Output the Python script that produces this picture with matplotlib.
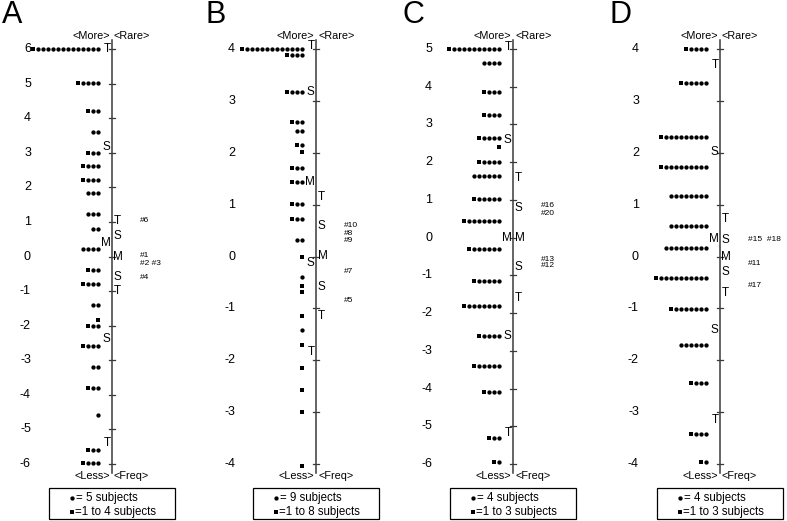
import matplotlib.pyplot as plt
from matplotlib.patches import Rectangle

plt.rcParams['font.family'] = ['Liberation Sans', 'DejaVu Sans']

# ---- panel A ----
a_ticks = list(range(-6, 7))
a_rows = [6.0, 5.03, 4.22, 3.61, 3.0, 2.62, 2.2, 1.85, 1.23, 0.79, 0.22, -0.39, -0.8,
          -1.4, -1.84, -2.0, -2.59, -3.2, -3.79, -4.58, -5.59, -5.98]
a_circles = [13, 4, 2, 2, 2, 3, 3, 3, 3, 2, 4, 2, 3, 2, 0, 2, 3, 2, 2, 1, 2, 3]
a_squares = [1, 1, 1, 0, 1, 1, 1, 0, 0, 0, 0, 1, 1, 0, 1, 1, 1, 0, 1, 0, 1, 1]
a_left_y = [6.0, 3.18, 0.4, -2.4, -5.38]
a_right_y = [1.04, 0.58, 0.0, -0.6, -1.01]
a_item_y = [1.04, 0.04, -0.19, -0.6]
a_item_txt = ['#6', '#1', '#2 #3', '#4']
a_legend = ['= 5 subjects', '=1 to 4 subjects']

# ---- panel B ----
b_ticks = list(range(-4, 5))
b_rows = [4.0, 3.88, 3.17, 2.59, 2.41, 2.15, 2.01, 1.71, 1.44, 1.01, 0.72, 0.31, 0.0,
          -0.4, -0.56, -0.69, -1.14, -1.41, -1.7, -2.14, -2.57, -3.0, -4.03]
b_circles = [12, 3, 3, 2, 2, 1, 0, 2, 2, 2, 2, 2, 0, 1, 0, 0, 0, 1, 0, 0, 0, 0, 0]
b_squares = [1, 1, 1, 1, 0, 1, 1, 1, 1, 1, 1, 0, 1, 0, 1, 1, 1, 0, 1, 1, 1, 1, 1]
b_left_y = [4.05, 3.17, 1.44, -0.13, -1.85]
b_right_y = [1.15, 0.59, 0.01, -0.58, -1.14]
b_item_y = [0.6, 0.45, 0.3, -0.28, -0.85]
b_item_txt = ['#10', '#8', '#9', '#7', '#5']
b_legend = ['= 9 subjects', '=1 to 8 subjects']

# ---- panel C ----
c_ticks = list(range(-6, 6))
c_rows = [5.0, 4.64, 3.87, 3.25, 2.65, 2.41, 2.01, 1.64, 1.02, 0.44, -0.31,
          -1.15, -1.8, -2.61, -3.4, -4.08, -5.3, -5.95]
c_circles = [10, 4, 3, 3, 4, 0, 4, 6, 5, 7, 6, 5, 7, 4, 5, 3, 2, 1]
c_squares = [1, 0, 1, 1, 1, 1, 1, 0, 1, 1, 1, 1, 1, 1, 1, 1, 1, 1]
c_left_y = [5.06, 2.59, 0.0, -2.61, -5.19]
c_right_y = [1.59, 0.79, 0.0, -0.77, -1.61]
c_item_y = [0.84, 0.65, -0.57, -0.74]
c_item_txt = ['#16', '#20', '#13', '#12']
c_legend = ['= 4 subjects', '=1 to 3 subjects']

# ---- panel D ----
d_ticks = list(range(-4, 5))
d_rows = [4.0, 3.34, 2.31, 1.73, 1.17, 0.59, 0.16, -0.42, -1.01, -1.71, -2.44, -3.42, -3.97]
d_circles = [4, 5, 9, 9, 8, 8, 9, 10, 7, 6, 3, 3, 1]
d_squares = [1, 1, 1, 1, 0, 0, 0, 1, 1, 0, 1, 1, 1]
d_left_y = [3.7, 2.01, 0.33, -1.42, -3.15]
d_right_y = [0.72, 0.32, 0.0, -0.3, -0.71]
d_item_y = [0.32, -0.14, -0.55]
d_item_txt = ['#15  #18', '#11', '#17']
d_legend = ['= 4 subjects', '=1 to 3 subjects']

dist_txt = ['T', 'S', 'M', 'S', 'T']

W, H = 787, 521
TOP, BOT = 49, 464
LINE = '#3a3a3a'

fig = plt.figure(figsize=(W / 100, H / 100), dpi=100)


def frac(py):
    # figure pixel row -> axes fraction
    return (BOT - py) / (BOT - TOP)


def draw_panel(line_px, letter, ticks, rows, ncirc, nsq, left_y, right_y,
               item_y, item_txt, legend):
    ax = fig.add_axes([(line_px - 100) / W, (H - BOT) / H, 190 / W, (BOT - TOP) / H])
    ax.set_xlim(-100, 90)
    ax.set_ylim(min(ticks), max(ticks))
    ax.axis('off')
    tr = ax.get_xaxis_transform()

    # vertical scale line with integer ticks
    ax.plot([0, 0], [frac(473), frac(40)], transform=tr, color=LINE, lw=1.1, clip_on=False)
    for t in ticks:
        ax.plot([-3, 3], [t, t], color=LINE, lw=0.9, clip_on=False)
        ax.text(-81, t, str(t), ha='right', va='center', fontsize=9)

    # person rows: square (partial group) on the left, circles to the right
    step = 5.0
    for y, nc, ns in zip(rows, ncirc, nsq):
        xs = [-14 - step * k for k in range(nc)]
        ax.plot(xs, [y] * nc, 'o', ms=3.1, color='black', mew=0, clip_on=False)
        if ns:
            ax.plot([-14 - step * nc], [y], 's', ms=2.3, color='black', mew=0, clip_on=False)

    for y, s in zip(left_y, dist_txt):
        ax.text(-1.5, y, s, ha='right', va='center', fontsize=8.5)
    for y, s in zip(right_y, dist_txt):
        ax.text(1.5, y, s, ha='left', va='center', fontsize=8.5)
    for y, s in zip(item_y, item_txt):
        ax.text(28, y, s, ha='left', va='center', fontsize=6)

    ax.text(-2, frac(36), '<More>', transform=tr, ha='right', va='center', fontsize=7.8)
    ax.text(2, frac(36), '<Rare>', transform=tr, ha='left', va='center', fontsize=7.8)
    ax.text(-2, frac(476), '<Less>', transform=tr, ha='right', va='center', fontsize=7.8)
    ax.text(2, frac(476), '<Freq>', transform=tr, ha='left', va='center', fontsize=7.8)
    ax.text(-100, frac(15), letter, transform=tr, ha='center', va='center', fontsize=22)

    # legend box
    ax.add_patch(Rectangle((-63, frac(519)), 126, frac(488) - frac(519), transform=tr,
                           fill=False, ec='black', lw=0.9, clip_on=False))
    ax.plot([-40], [frac(498)], 'o', ms=3.1, color='black', mew=0, transform=tr, clip_on=False)
    ax.text(-36, frac(498), legend[0], transform=tr, ha='left', va='center', fontsize=8.3)
    ax.plot([-40], [frac(512)], 's', ms=2.3, color='black', mew=0, transform=tr, clip_on=False)
    ax.text(-37, frac(512), legend[1], transform=tr, ha='left', va='center', fontsize=8.3)


draw_panel(112, 'A', a_ticks, a_rows, a_circles, a_squares, a_left_y, a_right_y,
           a_item_y, a_item_txt, a_legend)
draw_panel(316, 'B', b_ticks, b_rows, b_circles, b_squares, b_left_y, b_right_y,
           b_item_y, b_item_txt, b_legend)
draw_panel(513, 'C', c_ticks, c_rows, c_circles, c_squares, c_left_y, c_right_y,
           c_item_y, c_item_txt, c_legend)
draw_panel(720, 'D', d_ticks, d_rows, d_circles, d_squares, d_left_y, d_right_y,
           d_item_y, d_item_txt, d_legend)

fig.savefig('out.png', dpi=100)
